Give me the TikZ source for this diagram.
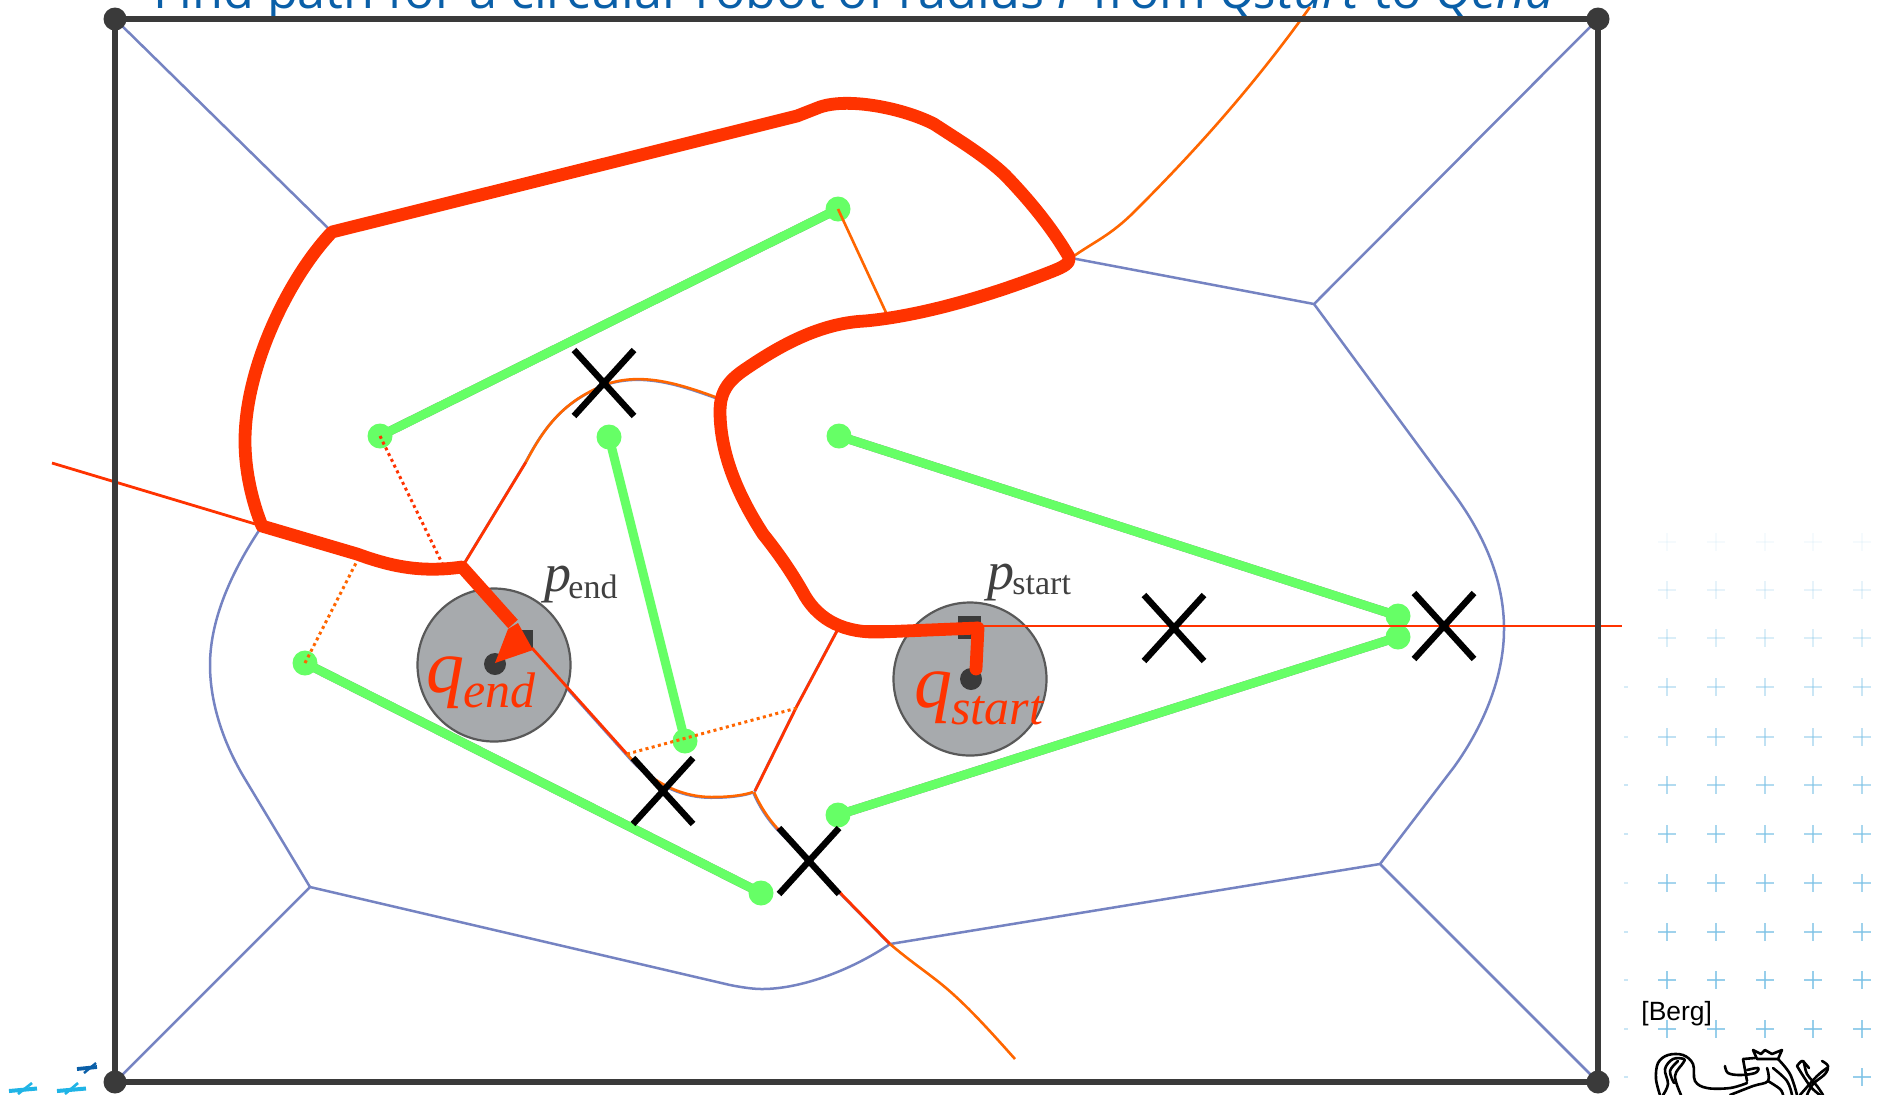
\documentclass[tikz,border=0pt]{standalone}
\usepackage{fontspec}
\setmainfont{Liberation Sans}
\newfontfamily\tms{Liberation Serif}
\newfontfamily\ttl{Open Sans}
\definecolor{vorblue}{HTML}{7583C2}
\definecolor{pathred}{HTML}{FF3300}
\definecolor{thinor}{HTML}{FF6600}
\definecolor{obsgreen}{HTML}{66FF66}
\definecolor{framedark}{HTML}{3A3A3A}
\definecolor{robotgray}{HTML}{A7AAAD}
\definecolor{titleblue}{HTML}{0A5FA8}
\definecolor{plusblue}{HTML}{7CC2E6}
\definecolor{pluscyan}{HTML}{20B4E6}
\tikzset{
  vor/.style={draw=vorblue,line width=1.25pt},
  thinred/.style={draw=pathred,line width=1.4pt},
  thinorange/.style={draw=thinor,line width=1.3pt},
  reddots/.style={draw=pathred,line width=1.5pt,dash pattern=on 1.5pt off 1.7pt},
  orangedots/.style={draw=thinor,line width=1.5pt,dash pattern=on 1.5pt off 1.7pt},
  thick path/.style={draw=pathred,line width=6.4pt,line join=round},
  framepart/.style={draw=framedark,line width=3.3pt},
  cornerdot/.style={circle,fill=framedark,inner sep=0pt,minimum size=11.5pt},
  obsdot/.style={circle,fill=obsgreen,inner sep=0pt,minimum size=12.5pt},
  obsline/.style={draw=obsgreen,line width=4.5pt},
  obsshadow/.style={draw=black!50,line width=4.5pt},
  notok/.style={draw=black,line width=3.2pt},
  robot/.style={circle,fill=robotgray,draw=black!65,line width=1.1pt,inner sep=0pt,minimum size=76.5pt},
  lbl/.style={inner sep=0pt,anchor=base west},
  lion/.style={draw=black,line width=1.3pt,line join=round,line cap=round},
}
\begin{document}
\begin{tikzpicture}[x=0.5pt,y=-0.5pt]
\clip (0,0) rectangle (1877,1094);
\useasboundingbox (0,0) rectangle (1877,1094);
\fill[white] (0,0) rectangle (1877,1094);
\begin{scope}[yshift=-.5pt]
% background plus marks
\foreach \yy/\op in {541/.07,589/.18,637/.28,686/.4,736/.48,784/.58,833/.65,882/.68,931/.72,979/.78,1028/.78}{
  \foreach \xx in {1667,1716,1765,1813,1862}{
    \draw[plusblue,opacity=\op,line width=1pt] (\xx-9,\yy) -- (\xx+9,\yy);
    \draw[plusblue,opacity=\op,line width=.6pt] (\xx,\yy-9) -- (\xx,\yy+9);
  }
}
\draw[plusblue,opacity=.8,line width=1pt] (1853,1076) -- (1871,1076);
\draw[plusblue,opacity=.8,line width=.6pt] (1862,1067) -- (1862,1085);
\foreach \yy/\op in {686/.3,736/.3,784/.4,833/.4,882/.3,931/.4,979/.4,1028/.4,1076/.4}{
  \draw[plusblue,opacity=\op,line width=.8pt] (1624,\yy) -- (1628,\yy);
}
% bottom-left plus marks
\draw[titleblue,line width=1.9pt] (77,1068) -- (97,1066);
\draw[titleblue,line width=1.2pt] (84,1072) -- (96,1062);
\draw[pluscyan,line width=2pt] (9,1090) -- (37,1087.5);
\draw[pluscyan,line width=1.3pt] (18,1093) -- (32,1082);
\draw[pluscyan,line width=2pt] (57,1090) -- (86,1087.5);
\draw[pluscyan,line width=1.3pt] (65,1093) -- (78,1082);
% title
\node[lbl,text=titleblue] (title) at (153,7) {\ttl\fontsize{25.2}{25.2}\selectfont Find path for a circular robot of radius \textit{r} from \textit{Qstart} to \textit{Qend}};
% frame
\coordinate (tl) at (115,18);
\coordinate (tr) at (1598,18);
\coordinate (br) at (1598,1081);
\coordinate (bl) at (115,1081);
% voronoi
\coordinate (v1) at (332,231);
\coordinate (v2) at (1314,303);
\coordinate (v3) at (1071,257);
\coordinate (v4) at (1380,863);
\coordinate (v5) at (890,943);
\coordinate (v6) at (310,886);
\coordinate (v7) at (262,525);
\draw[vor] (tl) -- (v1);
\draw[vor] (tr) -- (v2) -- (v3);
\draw[vor] (br) -- (v4) -- (v5);
\draw[vor] (bl) -- (v6) -- (730,984) .. controls (745,987) and (755,988) .. (762,988) .. controls (800,988) and (850,970) .. (v5);
\draw[vor] (v2) -- (1448,485) .. controls (1485,533) and (1504,580) .. (1504,628) .. controls (1504,680) and (1480,730) .. (1454,766) -- (v4);
\draw[vor] (v6) -- (245,778) .. controls (222,740) and (210,700) .. (210,664) .. controls (210,615) and (235,565) .. (v7);
% blue traces under red and orange edges
\begin{scope}[xshift=-.35pt,yshift=-.35pt]
\draw[vor] (464,563) -- (526,461) .. controls (545,425) and (565,398) .. (610,382) .. controls (645,372) and (680,383) .. (718,397);
\draw[vor] (532,647) -- (627,753) .. controls (650,780) and (680,797) .. (715,796) .. controls (730,796) and (745,794) .. (753,791);
\draw[vor] (755,790) -- (797,705) -- (837,630);
\draw[vor] (754,791) .. controls (760,805) and (768,817) .. (777,827) -- (890,942);
\end{scope}
% green obstacles
\coordinate (a1) at (838,208); \coordinate (a2) at (380,435);
\coordinate (b1) at (609,436); \coordinate (b2) at (685,740);
\coordinate (c1) at (839,435); \coordinate (c2) at (1398,615);
\coordinate (d1) at (1398,636); \coordinate (d2) at (838,814);
\coordinate (e1) at (305,662); \coordinate (e2) at (761,892);
\begin{scope}[shift={(-1,1.4)}]
\draw[obsshadow] (a1) -- (a2);
\draw[obsshadow] (c1) -- (c2);
\draw[obsshadow] (d1) -- (d2);
\draw[obsshadow] (e1) -- (e2);
\end{scope}
\draw[obsline] (a1) -- (a2);
\draw[obsline] (b1) -- (b2);
\draw[obsline] (c1) -- (c2);
\draw[obsline] (d1) -- (d2);
\draw[obsline] (e1) -- (e2);
\foreach \p in {a1,a2,b1,b2,c1,c2,d1,d2,e1,e2}{
  \node[obsdot] at (\p) {};
}
% robots
\node[robot] (rend) at (494,664) {};
\node[robot] (rstart) at (970,678) {};
\fill[framedark] (515,629) rectangle (533,647);
\fill[framedark] (958,615) rectangle (981,638);
\node[circle,fill=framedark,inner sep=0pt,minimum size=11pt] (cend) at (495,663) {};
\node[circle,fill=framedark,inner sep=0pt,minimum size=11pt] (cstart) at (971,678) {};
% thin edges
\draw[thinred] (52,462) -- (v7);
\draw[thinred] (838,625) -- (1622,625);
\draw[thinorange] (v3) .. controls (1095,240) and (1110,235) .. (1135,210) .. controls (1190,155) and (1250,90) .. (1310,6);
\draw[thinorange] (a1) -- (889,318);
\draw[thinred] (464,563) -- (526,461);
\draw[thinorange] (526,461) .. controls (545,425) and (565,398) .. (610,382) .. controls (645,372) and (680,383) .. (718,397);
\draw[reddots] (a2) -- (442,562);
\draw[orangedots] (e1) -- (357,560);
\draw[thinred] (532,647) -- (627,753);
\draw[thinorange] (627,753) .. controls (650,780) and (680,797) .. (715,796) .. controls (730,796) and (745,794) .. (753,791);
\draw[thinred] (755,790) -- (797,705) -- (837,630);
\draw[orangedots] (627,753) -- (797,707);
\draw[thinorange] (754,791) .. controls (760,805) and (768,817) .. (777,827);
\draw[thinred] (777,827) -- (v5);
\draw[thinorange] (v5) .. controls (910,960) and (925,970) .. (940,982) .. controls (965,1002) and (990,1030) .. (1015,1058);
% frame on top of the thin edges
\draw[framepart] (tl) -- (tr) -- (br) -- (bl) -- cycle;
\foreach \p in {tl,tr,br,bl}{
  \node[cornerdot] at (\p) {};
}
% thick path
\draw[thick path,line cap=round] (976,668) -- (978,627);
\draw[thick path] (978,627) -- (880,631)
  .. controls (845,632) and (820,620) .. (805,595)
  .. controls (790,568) and (775,548) .. (763,533)
  .. controls (745,505) and (720,460) .. (720,410)
  .. controls (720,385) and (735,375) .. (750,365)
  .. controls (780,345) and (820,322) .. (865,320)
  .. controls (920,315) and (990,295) .. (1053,270)
  .. controls (1063,266) and (1071,262) .. (1069,256)
  .. controls (1055,232) and (1035,205) .. (1005,174)
  .. controls (985,155) and (960,140) .. (934,123)
  .. controls (905,108) and (850,96) .. (820,106)
  -- (797,115) -- (v1)
  .. controls (290,275) and (245,365) .. (245,440)
  .. controls (245,470) and (252,500) .. (v7)
  -- (357,553)
  .. controls (390,565) and (420,572) .. (462,566)
  -- (513,623);
\fill[pathred] (495,662) -- (508,628) -- (518,622) -- (533,649) -- cycle;
% crosses
\foreach \cx/\cy in {604/382,663/790,809/860,1174/627,1444/625}{
  \draw[notok] (\cx-30,\cy-33) -- (\cx+30,\cy+33);
  \draw[notok] (\cx-30,\cy+33) -- (\cx+30,\cy-33);
}
% labels
\node[lbl,text=pathred] (qe) at (426,691) {\tms\fontsize{38}{38}\selectfont\itshape q};
\node[lbl,text=pathred] (qes) at (463,706) {\tms\fontsize{25}{25}\selectfont\itshape end};
\node[lbl,text=pathred] (qs) at (914,706) {\tms\fontsize{38}{38}\selectfont\itshape q};
\node[lbl,text=pathred] (qss) at (951,723) {\tms\fontsize{25}{25}\selectfont\itshape start};
\node[lbl,text=black!75] (pe) at (544,590) {\tms\fontsize{27}{27}\selectfont\itshape p};
\node[lbl,text=black!75] (pes) at (568,597) {\tms\fontsize{17}{17}\selectfont end};
\node[lbl,text=black!75] (ps) at (987,588) {\tms\fontsize{27}{27}\selectfont\itshape p};
\node[lbl,text=black!75] (pss) at (1012,593) {\tms\fontsize{17}{17}\selectfont start};
\node[lbl,text=black] (berg) at (1641,1019) {\fontsize{13.2}{13.2}\selectfont [Berg]};
% lion
\fill[white] (1650,1048) rectangle (1840,1094);
\begin{scope}[lion]
\draw plot[smooth,tension=.6] coordinates {(1660,1094) (1656,1078) (1658,1062) (1668,1054) (1683,1054) (1693,1063) (1695,1080) (1707,1087) (1730,1087) (1747,1082)};
\draw plot[smooth,tension=.6] coordinates {(1681,1094) (1675,1075) (1683,1062) (1684,1058) (1673,1058) (1665,1068) (1668,1083) (1663,1094)};
\draw plot[smooth,tension=.6] coordinates {(1674,1082) (1670,1070) (1678,1060)};
\draw plot[smooth,tension=.6] coordinates {(1725,1065) (1728,1072) (1740,1074) (1755,1072) (1758,1067) (1747,1069)};
\draw (1743,1058) -- (1755,1057) (1743,1058) -- (1747,1080);
\draw (1753,1049) -- (1761,1053) -- (1765,1049) -- (1772,1053) -- (1782,1049) -- (1778,1058) -- (1757,1058) -- cycle;
\draw plot[smooth,tension=.6] coordinates {(1778,1058) (1790,1073) (1797,1094)};
\draw plot[smooth,tension=.6] coordinates {(1773,1067) (1787,1080) (1792,1094)};
\draw plot[smooth,tension=.6] coordinates {(1768,1080) (1780,1088) (1783,1094)};
\draw plot[smooth,tension=.6] coordinates {(1767,1067) (1768,1080) (1753,1085) (1730,1094)};
\draw plot[smooth,tension=.6] coordinates {(1797,1065) (1810,1085) (1820,1094)};
\draw plot[smooth,tension=.6] coordinates {(1797,1065) (1803,1060) (1807,1073) (1817,1085) (1823,1094)};
\draw plot[smooth,tension=.6] coordinates {(1827,1067) (1817,1075) (1800,1094)};
\draw plot[smooth,tension=.6] coordinates {(1822,1060) (1828,1065) (1825,1073) (1813,1083) (1807,1094)};
\draw (1803,1060) -- (1809,1067);
\end{scope}
\end{scope}
\end{tikzpicture}
\end{document}
